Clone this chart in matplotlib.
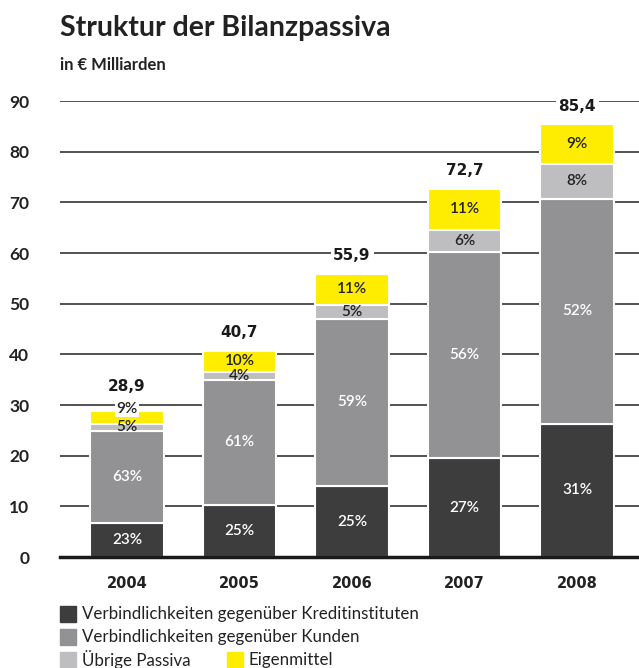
import matplotlib
matplotlib.use('Agg')
import matplotlib.pyplot as plt
from matplotlib.patches import Rectangle
import numpy as np

plt.rcParams['font.family'] = ['Lato', 'DejaVu Sans']

# Daten (in Mrd. Euro)
years = ['2004', '2005', '2006', '2007', '2008']
kreditinstitute = [6.7, 10.3, 14.0, 19.5, 26.3]
kunden = [18.2, 24.6, 33.0, 40.7, 44.4]
uebrige = [1.4, 1.6, 2.8, 4.4, 6.9]
eigenmittel = [2.6, 4.2, 6.1, 8.1, 7.8]
totals = ['28,9', '40,7', '55,9', '72,7', '85,4']

pct_kredit = ['23%', '25%', '25%', '27%', '31%']
pct_kunden = ['63%', '61%', '59%', '56%', '52%']
pct_uebrige = ['5%', '4%', '5%', '6%', '8%']
pct_eigen = ['9%', '10%', '11%', '11%', '9%']

labels = ['Verbindlichkeiten gegenüber Kreditinstituten',
          'Verbindlichkeiten gegenüber Kunden',
          'Übrige Passiva', 'Eigenmittel']
colors = ['#3d3d3d', '#929295', '#bebec1', '#ffed00']
text_colors = ['white', 'white', '#222222', '#222222']

fig = plt.figure(figsize=(6.39, 6.68), dpi=100)
ax = fig.add_axes([60 / 639, 111 / 668, 579 / 639, 456 / 668])

x = np.arange(len(years))
series = [kreditinstitute, kunden, uebrige, eigenmittel]
pcts = [pct_kredit, pct_kunden, pct_uebrige, pct_eigen]
bottom = np.zeros(len(years))
for vals, pl, c, tc in zip(series, pcts, colors, text_colors):
    vals = np.array(vals)
    ax.bar(x, vals, width=0.65, bottom=bottom, color=c,
           edgecolor='white', linewidth=1.5, zorder=3)
    for i in range(len(years)):
        yc = bottom[i] + vals[i] / 2
        bbox = None
        if c == colors[3] and vals[i] < 3:
            yc = bottom[i] + vals[i] + 0.3
            bbox = dict(facecolor='white', edgecolor='none', pad=1)
        ax.text(x[i], yc, pl[i], ha='center', va='center', color=tc,
                fontsize=11, fontweight='semibold', zorder=5, bbox=bbox)
    bottom = bottom + vals

for i in range(len(years)):
    off = 17 if i == 0 else 13
    ax.annotate(totals[i], (x[i], bottom[i]), xytext=(0, off),
                textcoords='offset points', ha='center', va='center',
                fontsize=11, fontweight='bold', color='#1a1a1a',
                family='DejaVu Sans',
                bbox=dict(facecolor='white', edgecolor='none', pad=2),
                zorder=6)

ax.set_xlim(-0.596, 4.551)
ax.set_ylim(0, 90)
ax.set_yticks(range(0, 100, 10))
ax.set_xticks(x)
ax.set_xticklabels(years, fontweight='bold', fontsize=10.5, color='#222222',
                   family='DejaVu Sans')
ax.tick_params(axis='y', length=0, pad=22, labelsize=12.5, labelcolor='#222222')
ax.tick_params(axis='x', length=0, pad=14)
for t in ax.get_yticklabels():
    t.set_fontweight('bold')
for s in ['top', 'right', 'left']:
    ax.spines[s].set_visible(False)
ax.spines['bottom'].set_linewidth(2.5)
ax.spines['bottom'].set_color('#1a1a1a')
ax.spines['bottom'].set_zorder(4)
ax.yaxis.grid(True, color='#333333', linewidth=1.2)
ax.set_axisbelow(True)

# Titel
fig.text(60 / 639, 1 - 28 / 668, 'Struktur der Bilanzpassiva', fontsize=20.5,
         fontweight='bold', color='#222222', va='center', ha='left')
fig.text(60 / 639, 1 - 65 / 668, 'in € Milliarden', fontsize=12,
         fontweight='bold', color='#222222', va='center', ha='left')

# Legende
leg_pos = [(60, 614), (60, 637), (60, 660), (227, 660)]
for (lx, ly), lab, c in zip(leg_pos, labels, colors):
    fig.add_artist(Rectangle((lx / 639, 1 - (ly + 8) / 668), 16 / 639, 16 / 668,
                             transform=fig.transFigure, color=c))
    fig.text((lx + 22) / 639, 1 - ly / 668, lab, fontsize=12.2, color='#222222',
             va='center', ha='left')

fig.savefig('out.png', dpi=100)
